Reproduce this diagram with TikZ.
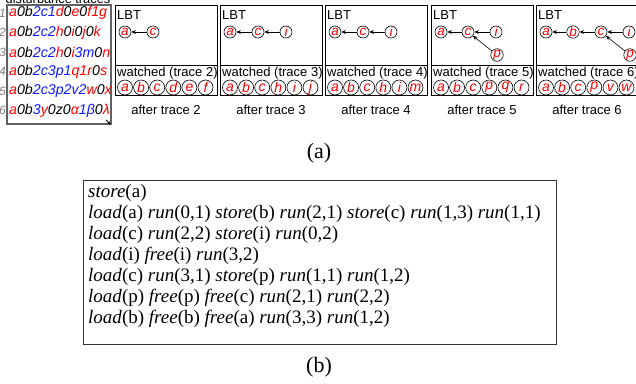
\documentclass[tikz,border=0pt]{standalone}
\usepackage{fontspec}
\setmainfont{Liberation Serif}
\setsansfont{Liberation Sans}
\usetikzlibrary{arrows.meta}
\definecolor{tred}{rgb}{1,0,0}
\definecolor{tblue}{rgb}{0.05,0.1,1}
\definecolor{boxgray}{rgb}{0.38,0.38,0.38}
\newcommand\Rd[1]{\textcolor{tred}{#1}}
\newcommand\Bl[1]{\textcolor{tblue}{#1}}
\tikzset{
  lbtnode/.style={circle, draw, line width=0.6pt, inner sep=0pt, minimum size=12pt,
    font=\sffamily\itshape\fontsize{13.5}{13.5}\selectfont, text=tred},
  wnode/.style={circle, draw, line width=0.6pt, inner sep=0pt, minimum size=15pt,
    font=\sffamily\itshape\fontsize{14}{14}\selectfont, text=tred},
  lbtarrow/.style={-{Stealth[length=4.5pt,width=3.8pt]}, line width=0.6pt},
  panelline/.style={draw, line width=0.8pt},
  lbl/.style={inner sep=0pt, font=\sffamily\fontsize{13}{13}\selectfont},
  aftercap/.style={inner sep=0pt, font=\sffamily\fontsize{13}{13}\selectfont},
  trace/.style={inner sep=0pt, anchor=west, font=\sffamily\itshape\fontsize{14.2}{15}\selectfont},
  rownum/.style={inner sep=0pt, anchor=east, text=gray, font=\sffamily\itshape\fontsize{12}{13}\selectfont},
  codeline/.style={inner sep=0pt, anchor=base west, font=\fontsize{19}{21}\selectfont},
  subcap/.style={inner sep=0pt, font=\fontsize{22}{24}\selectfont}
}
\begin{document}
\begin{tikzpicture}[x=1pt,y=-1pt]
\useasboundingbox (0,0) rectangle (636,383);

% disturbance traces box
\node[inner sep=0pt, anchor=base, font=\sffamily\fontsize{12.8}{13}\selectfont] (dtlabel) at (58,3.2) {disturbance traces};
\draw[boxgray, line width=1.2pt] (7,5) rectangle (111,124);
\draw[-{Stealth[length=3pt,width=3pt]}, line width=0.9pt] (106,120) -- (110.5,124.5);

\node[trace] (t1) at (9,13) {\Rd{a}0b\Bl{2c1}\Rd{d}0\Rd{e}0\Rd{f1g}};
\node[trace] (t2) at (9,32.5) {\Rd{a}0b\Bl{2c2}\Rd{h}0\Rd{i}0\Rd{j}0\Rd{k}};
\node[trace] (t3) at (9,52) {\Rd{a}0b\Bl{2c2}\Rd{h}0\Rd{i}\Bl{3m}0\Rd{n}};
\node[trace] (t4) at (9,71.5) {\Rd{a}0b\Bl{2c3p1}\Rd{q1r}0\Rd{s}};
\node[trace] (t5) at (9,91) {\Rd{a}0b\Bl{2c3p2v2}\Rd{w}0\Rd{x}};
\node[trace] (t6) at (9,110.5) {\Rd{a}0b\Bl{3}\Rd{y}0z0\Rd{α}\Bl{1β}0\Rd{λ}};
\foreach \r/\yy in {1/13,2/32.5,3/52,4/71.5,5/91,6/110.5}
  \node[rownum] (n\r) at (6,\yy) {\r};

% panels
\foreach \k/\xo/\lst in {2/115/{a,b,c,d,e,f},3/220/{a,b,c,h,i,j},4/325/{a,b,c,h,i,m},5/431/{a,b,c,p,q,r},6/536/{a,b,c,p,v,w}} {
  \draw[panelline] (\xo,5) rectangle ++(102,90);
  \draw[panelline] (\xo,65) -- ++(102,0);
  \node[lbl, anchor=west] (lbt\k) at (\xo+2,15.5) {LBT};
  \node[lbl, anchor=west] (wl\k) at (\xo+2,73) {watched (trace \k)};
  \node[aftercap] (after\k) at (\xo+51,110) {after trace \k};
  \foreach \n [count=\j from 0] in \lst
    \node[wnode] (w\k-\j) at (\xo+10+16.1*\j,87.5) {\n};
}

% LBT trees
\node[lbtnode] (p2a) at (125,32) {a};
\node[lbtnode] (p2c) at (153,32) {c};
\draw[lbtarrow] (p2c) -- (p2a);

\node[lbtnode] (p3a) at (230,32) {a};
\node[lbtnode] (p3c) at (258,32) {c};
\node[lbtnode] (p3i) at (286,32) {i};
\draw[lbtarrow] (p3c) -- (p3a);
\draw[lbtarrow] (p3i) -- (p3c);

\node[lbtnode] (p4a) at (335,32) {a};
\node[lbtnode] (p4c) at (363,32) {c};
\node[lbtnode] (p4i) at (391,32) {i};
\draw[lbtarrow] (p4c) -- (p4a);
\draw[lbtarrow] (p4i) -- (p4c);

\node[lbtnode] (p5a) at (441,32) {a};
\node[lbtnode] (p5c) at (468,32) {c};
\node[lbtnode] (p5i) at (496,32) {i};
\node[lbtnode] (p5p) at (497,55) {p};
\draw[lbtarrow] (p5c) -- (p5a);
\draw[lbtarrow] (p5i) -- (p5c);
\draw[lbtarrow] (p5p) -- (p5c);

\node[lbtnode] (p6a) at (546,32) {a};
\node[lbtnode] (p6b) at (573,32) {b};
\node[lbtnode] (p6c) at (601,32) {c};
\node[lbtnode] (p6i) at (629,32) {i};
\node[lbtnode] (p6p) at (630,55) {p};
\draw[lbtarrow] (p6b) -- (p6a);
\draw[lbtarrow] (p6c) -- (p6b);
\draw[lbtarrow] (p6i) -- (p6c);
\draw[lbtarrow] (p6p) -- (p6c);

\node[subcap] (capa) at (319,153) {(a)};

% code box
\draw[line width=1pt, draw={rgb,1:red,0.2;green,0.2;blue,0.2}] (83,180) rectangle (556,344);
\node[codeline] (l1) at (88,197) {\textit{store}(a)};
\node[codeline] (l2) at (88,218) {\textit{load}(a) \textit{run}(0,1) \textit{store}(b) \textit{run}(2,1) \textit{store}(c) \textit{run}(1,3) \textit{run}(1,1)};
\node[codeline] (l3) at (88,239) {\textit{load}(c) \textit{run}(2,2) \textit{store}(i) \textit{run}(0,2)};
\node[codeline] (l4) at (88,260) {\textit{load}(i) \textit{free}(i) \textit{run}(3,2)};
\node[codeline] (l5) at (88,281) {\textit{load}(c) \textit{run}(3,1) \textit{store}(p) \textit{run}(1,1) \textit{run}(1,2)};
\node[codeline] (l6) at (88,302) {\textit{load}(p) \textit{free}(p) \textit{free}(c) \textit{run}(2,1) \textit{run}(2,2)};
\node[codeline] (l7) at (88,323) {\textit{load}(b) \textit{free}(b) \textit{free}(a) \textit{run}(3,3) \textit{run}(1,2)};

\node[subcap] (capb) at (319,367) {(b)};
\end{tikzpicture}
\end{document}
